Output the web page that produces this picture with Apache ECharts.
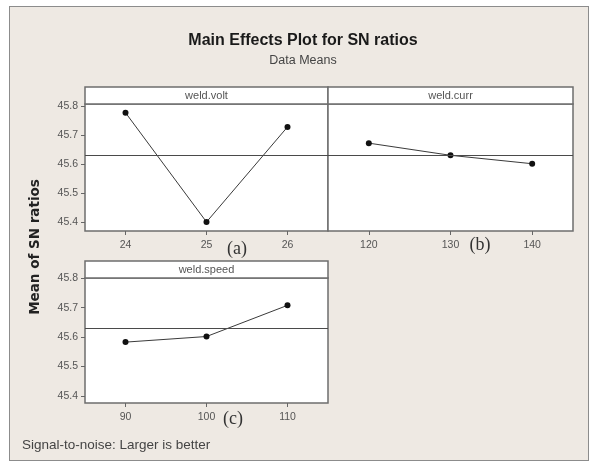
<!DOCTYPE html>
<html><head><meta charset="utf-8">
<script src="https://cdn.jsdelivr.net/npm/echarts@6/dist/echarts.min.js"></script>
<style>
html,body{margin:0;padding:0;background:#fff;}
#frame{position:absolute;left:9px;top:6px;width:578px;height:453px;border:1.5px solid #8c8c8c;background:#EEE9E3;}
#chart{position:absolute;left:0;top:0;width:592px;height:464px;}
</style></head><body>
<div id="frame"></div><div id="chart"></div>
<script>
const voltLevels = ['24', '25', '26'];
const voltMeans = [45.778, 45.401, 45.729];
const currLevels = ['120', '130', '140'];
const currMeans = [45.673, 45.631, 45.602];
const speedLevels = ['90', '100', '110'];
const speedMeans = [45.583, 45.602, 45.708];
const yTicks = [45.4, 45.5, 45.6, 45.7, 45.8];
const grandMean = 45.633;
const panelNames = ['weld.volt', 'weld.curr', 'weld.speed'];
const panelTags = ['(a)', '(b)', '(c)'];

const panels = [
  {levels: voltLevels, means: voltMeans, grid: {left: 85, top: 104, width: 243, height: 127}, ymin: 45.370, ymax: 45.808, yLabels: true},
  {levels: currLevels, means: currMeans, grid: {left: 328, top: 104, width: 245, height: 127}, ymin: 45.370, ymax: 45.808, yLabels: false},
  {levels: speedLevels, means: speedMeans, grid: {left: 85, top: 278, width: 243, height: 125}, ymin: 45.376, ymax: 45.801, yLabels: true}
];

const chart = echarts.init(document.getElementById('chart'), null, {renderer: 'canvas'});
const lblFont = 'Liberation Sans';
const grids = [], xAxes = [], yAxes = [], series = [], graphics = [];

panels.forEach((p, i) => {
  grids.push(Object.assign({show: true, backgroundColor: '#ffffff', borderColor: '#6e6e6e', borderWidth: 1.5}, p.grid));
  xAxes.push({
    type: 'category', gridIndex: i, data: p.levels, boundaryGap: true,
    axisLine: {show: false},
    axisTick: {show: true, alignWithLabel: true, length: 4, lineStyle: {color: '#666'}},
    axisLabel: {color: '#555', fontSize: 10.5, fontFamily: lblFont, margin: 9}
  });
  yAxes.push({
    type: 'value', gridIndex: i, min: p.ymin, max: p.ymax,
    axisLine: {show: false},
    splitLine: {show: false},
    axisTick: {show: p.yLabels, customValues: yTicks, length: 4, lineStyle: {color: '#666'}},
    axisLabel: {show: p.yLabels, customValues: yTicks, color: '#555', fontSize: 10.5, fontFamily: lblFont, margin: 7,
      formatter: v => v.toFixed(1)}
  });
  series.push({
    type: 'line', xAxisIndex: i, yAxisIndex: i, data: p.means,
    symbol: 'circle', symbolSize: 6,
    itemStyle: {color: '#111'},
    lineStyle: {color: '#3a3a3a', width: 1},
    markLine: {silent: true, symbol: 'none', label: {show: false},
      lineStyle: {color: '#4a4a4a', width: 1, type: 'solid'},
      data: [{yAxis: grandMean}]}
  });
  // strip header
  graphics.push({type: 'rect', z: 10, shape: {x: p.grid.left, y: p.grid.top - 17, width: p.grid.width, height: 17},
    style: {fill: '#ffffff', stroke: '#6e6e6e', lineWidth: 1.5}});
  graphics.push({type: 'text', z: 11, x: p.grid.left + p.grid.width / 2, y: p.grid.top - 8.5,
    style: {text: panelNames[i], fill: '#555', font: '11px "Liberation Sans"', textAlign: 'center', textVerticalAlign: 'middle'}});
});

// panel tags (a), (b), (c)
const tagPos = [[237, 249], [480, 245], [233, 419]];
tagPos.forEach((t, i) => graphics.push({type: 'text', z: 11, x: t[0], y: t[1],
  style: {text: panelTags[i], fill: '#333', font: '18px "Liberation Serif"', textAlign: 'center', textVerticalAlign: 'middle'}}));

graphics.push({type: 'text', x: 303, y: 41, style: {text: 'Main Effects Plot for SN ratios', fill: '#1a1a1a',
  font: 'bold 16px "Liberation Sans"', textAlign: 'center', textVerticalAlign: 'middle'}});
graphics.push({type: 'text', x: 303, y: 61, style: {text: 'Data Means', fill: '#444',
  font: '12.5px "Liberation Sans"', textAlign: 'center', textVerticalAlign: 'middle'}});
graphics.push({type: 'text', x: 35, y: 247, rotation: Math.PI / 2, style: {text: 'Mean of SN ratios', fill: '#222',
  font: 'bold 13.5px "DejaVu Sans"', textAlign: 'center', textVerticalAlign: 'middle'}});
graphics.push({type: 'text', x: 22, y: 445, style: {text: 'Signal-to-noise: Larger is better', fill: '#444',
  font: '13.5px "Liberation Sans"', textAlign: 'left', textVerticalAlign: 'middle'}});

chart.setOption({
  backgroundColor: 'transparent',
  animation: false,
  grid: grids, xAxis: xAxes, yAxis: yAxes, series: series,
  graphic: graphics
});
</script></body></html>
